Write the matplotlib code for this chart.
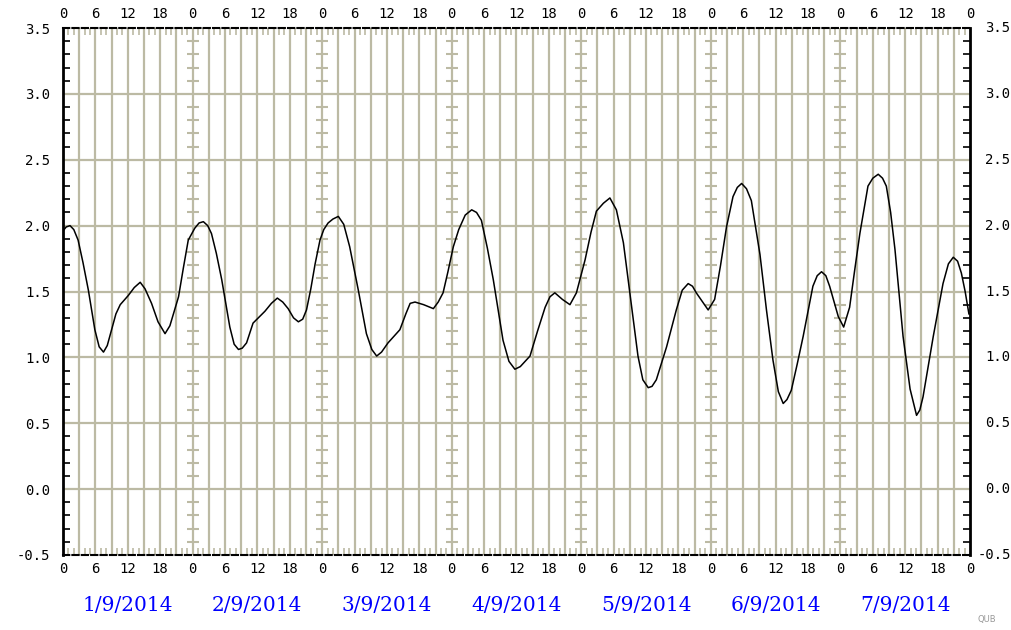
import numpy as np
import matplotlib
matplotlib.use("Agg")
import matplotlib.pyplot as plt
from matplotlib.transforms import blended_transform_factory, offset_copy

# hours since 1/9/2014 00:00 and the value
hours = [0, 0.6, 1.3, 2.0, 2.8, 3.7, 4.7, 5.9, 6.7, 7.5, 8.2, 9.0, 9.8, 10.6, 12.1, 13.2,
         14.3, 15.2, 16.4, 17.6, 18.9, 19.8, 20.6, 21.4, 22.3, 23.2, 24.4, 25.2, 26.0,
         26.8, 27.5, 28.4, 29.4, 30.9, 31.7, 32.5, 33.2, 34.0, 35.2, 37.4, 38.6, 39.7,
         40.7, 41.7, 42.7, 43.6, 44.4, 45.1, 45.9, 46.7, 47.6, 48.3, 49.1, 50.0, 51.0,
         52.0, 53.1, 54.7, 56.2, 57.2, 58.1, 59.0, 60.2, 62.4, 63.5, 64.3, 65.2, 66.8,
         68.6, 69.5, 70.4, 71.3, 72.3, 73.3, 74.5, 75.7, 76.6, 77.5, 78.6, 79.7, 81.5,
         82.6, 83.7, 84.7, 85.6, 86.5, 87.9, 89.3, 90.2, 91.1, 92.5, 93.9, 95.1, 96.7,
         97.8, 98.8, 100.1, 101.3, 102.5, 103.8, 105.0, 106.5, 107.4, 108.4, 109.1,
         109.9, 111.8, 113.6, 114.7, 115.8, 116.6, 117.3, 119.5, 120.7, 121.8, 122.9,
         124.1, 124.9, 125.7, 126.6, 127.5, 129.1, 130.3, 131.5, 132.5, 133.4, 134.1,
         134.9, 136.0, 137.1, 138.9, 139.7, 140.5, 141.3, 142.0, 143.6, 144.6, 145.7,
         146.6, 147.6, 149.1, 150.0, 151.0, 151.8, 152.5, 153.3, 154.1, 155.6, 156.9,
         158.1, 158.7, 159.3, 161.2, 163.0, 164.0, 164.9, 165.7, 166.4, 167.1, 167.8]
values = [1.96, 1.99, 2.00, 1.97, 1.89, 1.72, 1.51, 1.21, 1.08, 1.04, 1.09, 1.21, 1.33, 1.40,
          1.47, 1.53, 1.57, 1.52, 1.41, 1.27, 1.18, 1.24, 1.35, 1.46, 1.68, 1.89, 1.98,
          2.02, 2.03, 2.00, 1.94, 1.79, 1.59, 1.23, 1.10, 1.06, 1.07, 1.11, 1.26, 1.35,
          1.41, 1.45, 1.42, 1.37, 1.30, 1.27, 1.29, 1.36, 1.52, 1.71, 1.89, 1.97, 2.02,
          2.05, 2.07, 2.01, 1.84, 1.51, 1.18, 1.06, 1.01, 1.04, 1.11, 1.21, 1.33, 1.41,
          1.42, 1.40, 1.37, 1.42, 1.49, 1.65, 1.84, 1.97, 2.08, 2.12, 2.10, 2.04, 1.83,
          1.59, 1.13, 0.97, 0.91, 0.93, 0.97, 1.01, 1.20, 1.38, 1.46, 1.49, 1.44, 1.40,
          1.49, 1.74, 1.95, 2.11, 2.17, 2.21, 2.12, 1.87, 1.49, 1.01, 0.83, 0.77, 0.78,
          0.83, 1.08, 1.36, 1.51, 1.56, 1.54, 1.49, 1.36, 1.44, 1.70, 1.99, 2.22, 2.29,
          2.32, 2.28, 2.19, 1.78, 1.36, 0.98, 0.74, 0.65, 0.68, 0.75, 0.95, 1.16, 1.54,
          1.62, 1.65, 1.62, 1.54, 1.31, 1.23, 1.38, 1.65, 1.94, 2.30, 2.36, 2.39, 2.36,
          2.30, 2.10, 1.82, 1.16, 0.76, 0.56, 0.60, 0.70, 1.16, 1.56, 1.71, 1.76, 1.73,
          1.64, 1.50, 1.33]
day_labels = ["1/9/2014", "2/9/2014", "3/9/2014", "4/9/2014",
              "5/9/2014", "6/9/2014", "7/9/2014"]
hour_labels = ["0", "6", "12", "18"]
y_ticks = [-0.5, 0.0, 0.5, 1.0, 1.5, 2.0, 2.5, 3.0, 3.5]

grid_col = "#bcbaa4"
ndays = len(day_labels)

fig = plt.figure(figsize=(10.12, 6.3), dpi=100)
ax = fig.add_axes([63 / 1012, 1 - 555 / 630, 907 / 1012, 527 / 630])
ax.set_xlim(0, 24 * ndays)
ax.set_ylim(-0.5, 3.5)

# grid: every 3 hours, every 0.5 units
for h in range(3, 24 * ndays, 3):
    ax.axvline(h, color=grid_col, lw=1.6, zorder=1)
for v in y_ticks[1:-1]:
    ax.axhline(v, color=grid_col, lw=1.6, zorder=1)

# little crosses on the midnight lines
minor_y = [v for v in np.arange(-0.4, 3.5, 0.1) if abs(v * 2 - round(v * 2)) > 1e-6]
for d in range(1, ndays):
    ax.plot([24 * d] * len(minor_y), minor_y, ls="none", marker="_",
            ms=9, mew=1.5, color=grid_col, zorder=1)

ax.plot(hours, values, color="black", lw=1.1, zorder=3)

# ticks
xt = np.arange(0, 24 * ndays + 1, 6)
ax.set_xticks(xt)
ax.set_xticklabels([hour_labels[(i % 4)] for i in range(len(xt))])
ax.set_xticks(np.arange(0, 24 * ndays + 1, 1), minor=True)
ax.set_yticks(y_ticks)
ax.set_yticklabels(["%.1f" % v for v in y_ticks])
ax.set_yticks(minor_y, minor=True)

ax.tick_params(axis="x", which="major", direction="in", length=0, top=True, bottom=True,
               labeltop=True, labelbottom=True, labelsize=10, pad=5)
ax.tick_params(axis="x", which="minor", direction="in", length=5, width=1.2,
               color=grid_col, top=True, bottom=True)
ax.tick_params(axis="y", which="major", direction="in", length=0, left=True, right=True,
               labelleft=True, labelright=False, labelsize=10, pad=9)
ax.tick_params(axis="y", which="minor", direction="in", length=5, width=1.2,
               color="black", left=True, right=True)
for lab in ax.get_xticklabels() + ax.get_yticklabels():
    lab.set_family("DejaVu Sans Mono")

# right-hand value labels
trans = blended_transform_factory(ax.transAxes, ax.transData)
for v in y_ticks:
    dx = 15 if v >= 0 else 8
    ax.text(1.0, v, "%.1f" % v, ha="left", va="center", fontsize=10,
            family="DejaVu Sans Mono", clip_on=False,
            transform=offset_copy(trans, fig=fig, x=dx, y=0, units="dots"))

for side in ["left", "right"]:
    ax.spines[side].set_linewidth(2)
for side in ["top", "bottom"]:
    ax.spines[side].set_linewidth(1.5)
    ax.spines[side].set_linestyle((0, (3, 1.5)))

# day labels under the axis
for d, lab in enumerate(day_labels):
    ax.text(24 * d + 12, -0.88, lab, ha="center", va="center", color="#0000ff",
            fontsize=14.5, family="DejaVu Serif", clip_on=False)

fig.text(0.975, 0.013, "QUB", fontsize=6, color="#999999", ha="center")

fig.savefig("out.png", dpi=100)
